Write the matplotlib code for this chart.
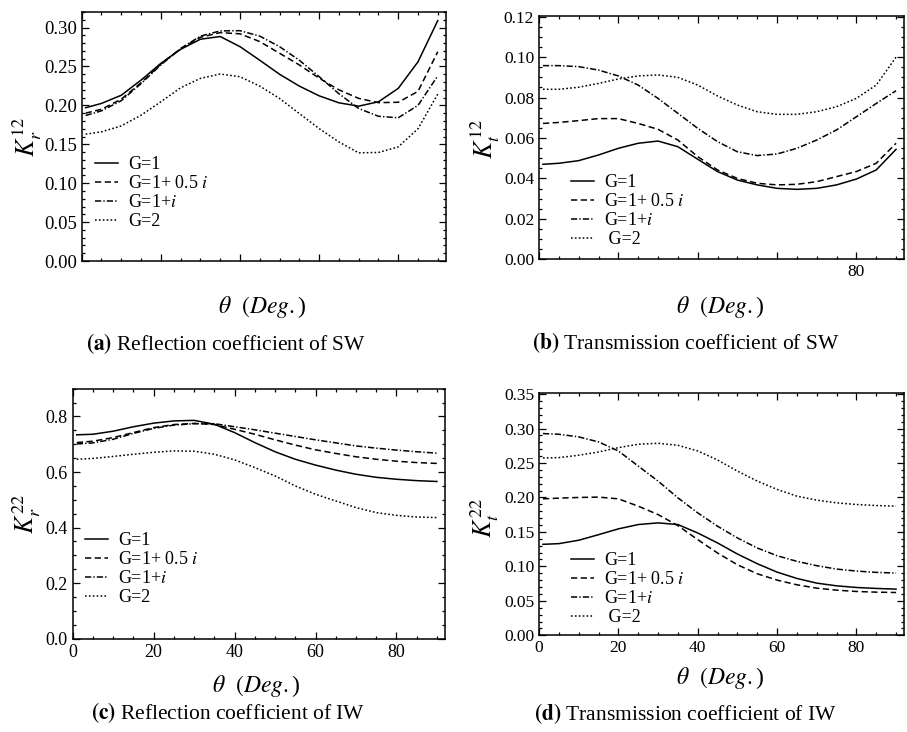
import matplotlib
matplotlib.use("Agg")
import matplotlib.pyplot as plt
from matplotlib.ticker import MultipleLocator, FuncFormatter

plt.rcParams['font.family'] = ['Liberation Serif', 'DejaVu Serif']
plt.rcParams['mathtext.fontset'] = 'stix'
plt.rcParams['lines.scale_dashes'] = False

theta = [1, 5, 10, 15, 20, 25, 30, 35, 40, 45, 50, 55, 60, 65, 70, 75, 80, 85, 90]
labels = ['G=1', 'G=1+ 0.5 $i$', 'G=1+$i$', 'G=2']

# (a) reflection coefficient of SW
a_g1 = [0.197, 0.2025, 0.213, 0.2325, 0.254, 0.272, 0.285, 0.2885, 0.2755, 0.258, 0.240,
        0.2248, 0.2123, 0.2033, 0.199, 0.2046, 0.2218, 0.256, 0.309]
a_g15 = [0.190, 0.195, 0.208, 0.229, 0.253, 0.273, 0.2875, 0.2935, 0.292, 0.282, 0.267,
         0.252, 0.235, 0.220, 0.209, 0.2035, 0.204, 0.218, 0.269]
a_g1i = [0.187, 0.193, 0.206, 0.228, 0.252, 0.273, 0.289, 0.2957, 0.296, 0.289, 0.2755,
         0.258, 0.237, 0.215, 0.196, 0.186, 0.184, 0.200, 0.238]
a_g2 = [0.163, 0.166, 0.1736, 0.1874, 0.2046, 0.2226, 0.2347, 0.2403, 0.2368, 0.2248, 0.2089,
        0.1895, 0.1702, 0.153, 0.139, 0.1395, 0.1466, 0.170, 0.2145]

# (b) transmission coefficient of SW
b_g1 = [0.047, 0.0475, 0.0488, 0.0516, 0.0549, 0.0574, 0.0585, 0.0557, 0.0495, 0.0434, 0.0392,
        0.0368, 0.0351, 0.0346, 0.0351, 0.0368, 0.0397, 0.0442, 0.0544]
b_g15 = [0.0672, 0.0677, 0.0686, 0.0696, 0.0696, 0.0672, 0.0643, 0.059, 0.0508, 0.0442, 0.040,
         0.0376, 0.0368, 0.0371, 0.0384, 0.0409, 0.0434, 0.0475, 0.0574]
b_g1i = [0.0958, 0.0958, 0.0953, 0.0936, 0.0907, 0.0862, 0.0796, 0.0722, 0.0648, 0.0582, 0.0532,
         0.0513, 0.0521, 0.0549, 0.059, 0.064, 0.0705, 0.0771, 0.0834]
b_g2 = [0.0841, 0.0841, 0.0851, 0.087, 0.0892, 0.0907, 0.0912, 0.090, 0.0862, 0.0808, 0.0763,
        0.073, 0.0717, 0.0717, 0.073, 0.0755, 0.0796, 0.0862, 0.1000]

# (c) reflection coefficient of IW
c_g1 = [0.734, 0.736, 0.747, 0.763, 0.776, 0.784, 0.786, 0.772, 0.742, 0.706, 0.673,
        0.646, 0.625, 0.607, 0.592, 0.581, 0.574, 0.569, 0.566]
c_g15 = [0.706, 0.711, 0.724, 0.742, 0.760, 0.771, 0.775, 0.771, 0.754, 0.736, 0.716,
         0.697, 0.680, 0.667, 0.655, 0.646, 0.639, 0.634, 0.631]
c_g1i = [0.701, 0.705, 0.718, 0.739, 0.757, 0.769, 0.774, 0.774, 0.763, 0.752, 0.740,
         0.728, 0.716, 0.705, 0.694, 0.686, 0.679, 0.673, 0.668]
c_g2 = [0.646, 0.649, 0.656, 0.664, 0.671, 0.676, 0.675, 0.664, 0.644, 0.616, 0.586,
        0.550, 0.520, 0.496, 0.472, 0.454, 0.444, 0.438, 0.436]

# (d) transmission coefficient of IW
d_g1 = [0.132, 0.133, 0.1379, 0.146, 0.1544, 0.1607, 0.1631, 0.1607, 0.1485, 0.134, 0.118,
        0.1039, 0.0917, 0.0825, 0.0757, 0.0718, 0.0694, 0.068, 0.067]
d_g15 = [0.198, 0.199, 0.200, 0.2005, 0.198, 0.1874, 0.1752, 0.1592, 0.1388, 0.1194, 0.1024,
         0.0893, 0.0801, 0.0733, 0.0684, 0.0655, 0.0636, 0.0626, 0.0621]
d_g1i = [0.2927, 0.2917, 0.2879, 0.2806, 0.2675, 0.2456, 0.2238, 0.1995, 0.1777, 0.1583, 0.1413,
         0.1267, 0.1155, 0.1073, 0.101, 0.0961, 0.0932, 0.0913, 0.0903]
d_g2 = [0.2573, 0.2578, 0.2612, 0.266, 0.2723, 0.2772, 0.2786, 0.2757, 0.2675, 0.2544, 0.2383,
        0.2238, 0.2117, 0.2019, 0.1961, 0.1922, 0.1898, 0.1883, 0.1874]

W, H = 907, 732
fig = plt.figure(figsize=(W / 100, H / 100), dpi=100)

styles = [dict(ls='-'), dict(dashes=(4.5, 2.5)), dict(dashes=(4.5, 1.5, 1, 1.5)), dict(dashes=(1.2, 1.6))]


def panel(box, series, ylim, ymaj, ymin, yfmt, xlabels, ylab, ylabpos, xlabpos, caption, cappos,
          legpos, g2lab='G=2', tsize=13):
    l, r, t, b = box
    ax = fig.add_axes([l / W, 1 - b / H, (r - l) / W, (b - t) / H])
    labs = labels[:3] + [g2lab]
    for y, st, lab in zip(series, styles, labs):
        ax.plot(theta, y, color='black', lw=1.1, label=lab, **st)
    ax.set_xlim(0, 92)
    ax.set_ylim(*ylim)
    ax.xaxis.set_major_locator(MultipleLocator(20))
    ax.xaxis.set_minor_locator(MultipleLocator(5))
    ax.yaxis.set_major_locator(MultipleLocator(ymaj))
    ax.yaxis.set_minor_locator(MultipleLocator(ymin))
    ax.yaxis.set_major_formatter(FuncFormatter(lambda v, p: yfmt % v))
    if xlabels == 'all':
        ax.xaxis.set_major_formatter(FuncFormatter(lambda v, p: '%d' % v))
    elif xlabels == 'none':
        ax.xaxis.set_major_formatter(FuncFormatter(lambda v, p: ''))
    else:
        ax.xaxis.set_major_formatter(FuncFormatter(lambda v, p: '%d' % v if abs(v - 80) < 1e-6 else ''))
    ax.tick_params(which='both', direction='in', top=True, right=True, labelsize=tsize, pad=3.5,
                   width=0.9)
    ax.tick_params(which='major', length=5)
    ax.tick_params(which='minor', length=2.5)
    for s in ax.spines.values():
        s.set_linewidth(1.1)
    ax.legend(loc='upper left', bbox_to_anchor=legpos, frameon=False, fontsize=13,
              handlelength=1.3, handletextpad=0.55, labelspacing=0.12, borderpad=0,
              borderaxespad=0)
    fig.text(ylabpos[0] / W, 1 - ylabpos[1] / H, ylab, rotation=90, ha='center', va='center',
             fontsize=18.5)
    fig.text(xlabpos[0] / W, 1 - xlabpos[1] / H, r'$\theta$  $(Deg.$)', ha='center', va='center',
             fontsize=17)
    fig.text(cappos[0] / W, 1 - cappos[1] / H, caption, ha='center', va='center', fontsize=15.5)
    return ax


def legpos_px(box, x, y):
    l, r, t, b = box
    return ((x - l) / (r - l), (b - y) / (b - t))


box_a = (81.7, 445.7, 12, 261)
panel(box_a, [a_g1, a_g15, a_g1i, a_g2], (0, 0.32), 0.05, 0.01, '%.2f', 'none',
      r'$K_r^{12}$', (27, 137), (262, 307),
      r'$\mathbf{(a)}$ Reflection coefficient of SW', (226, 344), legpos_px(box_a, 95, 156),
      tsize=13.5)

box_b = (539, 904, 15.7, 259.3)
panel(box_b, [b_g1, b_g15, b_g1i, b_g2], (0, 0.1205), 0.02, 0.005, '%.2f', 'only80',
      r'$K_t^{12}$', (485, 139), (720, 307),
      r'$\mathbf{(b)}$ Transmission coefficient of SW', (686, 343), legpos_px(box_b, 571, 174),
      g2lab=' G=2', tsize=12.5)

box_c = (72.7, 445, 388.7, 638.7)
panel(box_c, [c_g1, c_g15, c_g1i, c_g2], (0, 0.9), 0.2, 0.05, '%.1f', 'all',
      r'$K_r^{22}$', (27, 514), (256, 686),
      r'$\mathbf{(c)}$ Reflection coefficient of IW', (228, 713), legpos_px(box_c, 85, 532),
      tsize=13)

box_d = (539, 904, 392.7, 635.3)
panel(box_d, [d_g1, d_g15, d_g1i, d_g2], (0, 0.352), 0.05, 0.01, '%.2f', 'all',
      r'$K_t^{22}$', (485, 518), (720, 678),
      r'$\mathbf{(d)}$ Transmission coefficient of IW', (685, 714), legpos_px(box_d, 571, 552),
      g2lab=' G=2', tsize=12.5)

fig.savefig('out.png', dpi=100)
